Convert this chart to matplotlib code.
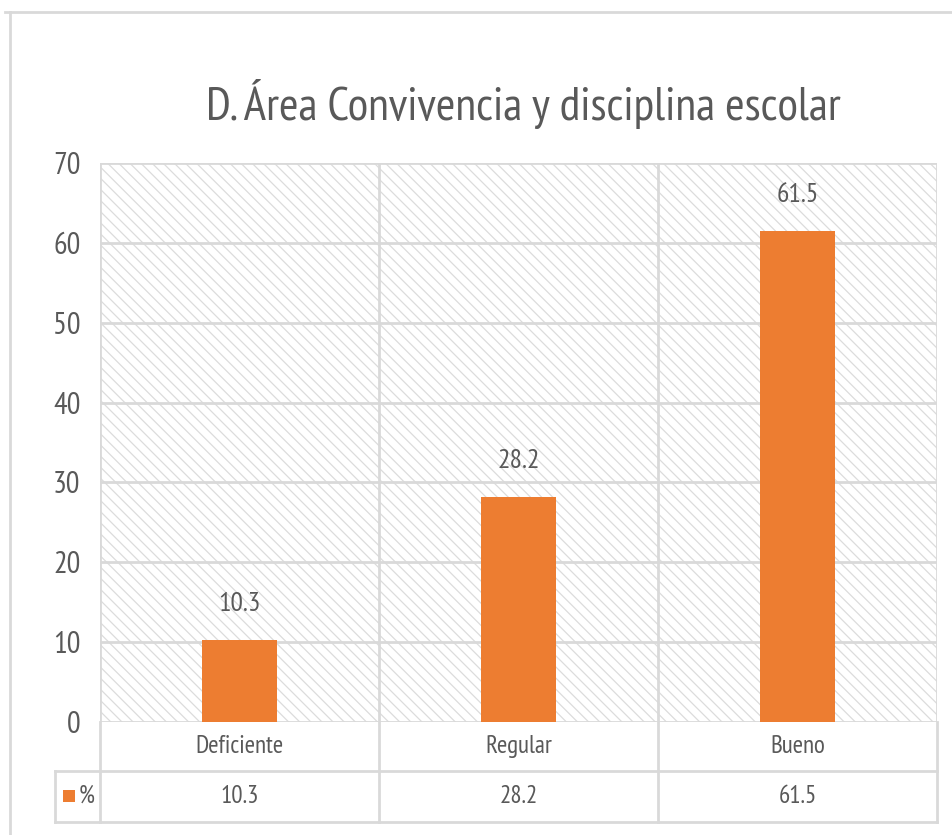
import matplotlib.pyplot as plt
from matplotlib.patches import Rectangle
from matplotlib.lines import Line2D
import numpy as np

categories = ['Deficiente', 'Regular', 'Bueno']
values = [10.3, 28.2, 61.5]
series_name = '%'
title = 'D. Área Convivencia y disciplina escolar'

plt.rcParams['font.family'] = ['PT Sans Narrow', 'Carlito', 'DejaVu Sans']
plt.rcParams['hatch.linewidth'] = 0.9

W, H = 953, 835
grid_c = '#D9D9D9'
text_c = '#595959'
bar_c = '#ED7D31'

fig = plt.figure(figsize=(W / 100, H / 100), dpi=100)

def fx(px):
    return px / W

def fy(py):
    return 1 - py / H

# outer chart frame (partly cut off in the original)
fig.add_artist(Line2D([fx(5), 1], [fy(12), fy(12)], color=grid_c, lw=2))
fig.add_artist(Line2D([fx(10), fx(10)], [fy(12), 0], color=grid_c, lw=2))

left, right, top, bottom = 100, 937, 163, 722
ax = fig.add_axes([fx(left), fy(bottom), fx(right - left), (bottom - top) / H])
x = np.arange(len(categories))
ax.set_xlim(-0.5, len(categories) - 0.5)
ax.set_ylim(0, 70)

# hatched plot area
ax.add_patch(Rectangle((0, 0), 1, 1, transform=ax.transAxes, facecolor='white',
                       edgecolor='#DCDCDC', hatch='\\\\\\', lw=0, zorder=0))
for yv in range(10, 71, 10):
    ax.axhline(yv, color=grid_c, lw=2, zorder=1)
for xv in np.arange(-0.5, len(categories), 1.0):
    ax.axvline(xv, color=grid_c, lw=2, zorder=1)
ax.axhline(0, color=grid_c, lw=2, zorder=1)

ax.bar(x, values, width=0.27, color=bar_c, zorder=3)
for xi, v in zip(x, values):
    ax.text(xi, v + 3.0, f'{v}', ha='center', va='bottom', fontsize=20, color=text_c)

for s in ax.spines.values():
    s.set_visible(False)
ax.set_xticks([])
ax.set_yticks(range(0, 71, 10))
ax.tick_params(axis='y', length=0, pad=14, labelsize=22, labelcolor=text_c)

fig.text(fx((left + right) / 2 + 5), fy(120), title, ha='center', va='baseline',
         fontsize=34, color=text_c)

# data table below the plot
row1, row2, row_end = 722, 771, 822
leg_left = 55
cw = (right - left) / len(categories)
kx = -0.5 - (left - leg_left) / cw
tab = fig.add_axes([fx(leg_left), fy(row_end), fx(right - leg_left), (row_end - row1) / H])
tab.set_xlim(kx, len(categories) - 0.5)
tab.set_ylim(row_end, row1)
tab.axis('off')
lk = dict(color=grid_c, lw=2, clip_on=False)
tab.plot([kx, len(categories) - 0.5], [row2, row2], **lk)
tab.plot([kx, len(categories) - 0.5], [row_end, row_end], **lk)
tab.plot([kx, kx], [row2, row_end], **lk)
for xv in np.arange(-0.5, len(categories), 1.0):
    tab.plot([xv, xv], [row1, row_end], **lk)
for xi, c, v in zip(x, categories, values):
    tab.text(xi, (row1 + row2) / 2, c, ha='center', va='center', fontsize=18, color=text_c)
    tab.text(xi, (row2 + row_end) / 2, f'{v}', ha='center', va='center', fontsize=18, color=text_c)
tab.add_patch(Rectangle((kx + 8 / cw, (row2 + row_end) / 2 - 6), 12 / cw, 12,
                        facecolor=bar_c, lw=0, clip_on=False))
tab.text(kx + 24 / cw, (row2 + row_end) / 2, series_name, ha='left', va='center',
         fontsize=18, color=text_c)

fig.savefig('out.png', dpi=100)
